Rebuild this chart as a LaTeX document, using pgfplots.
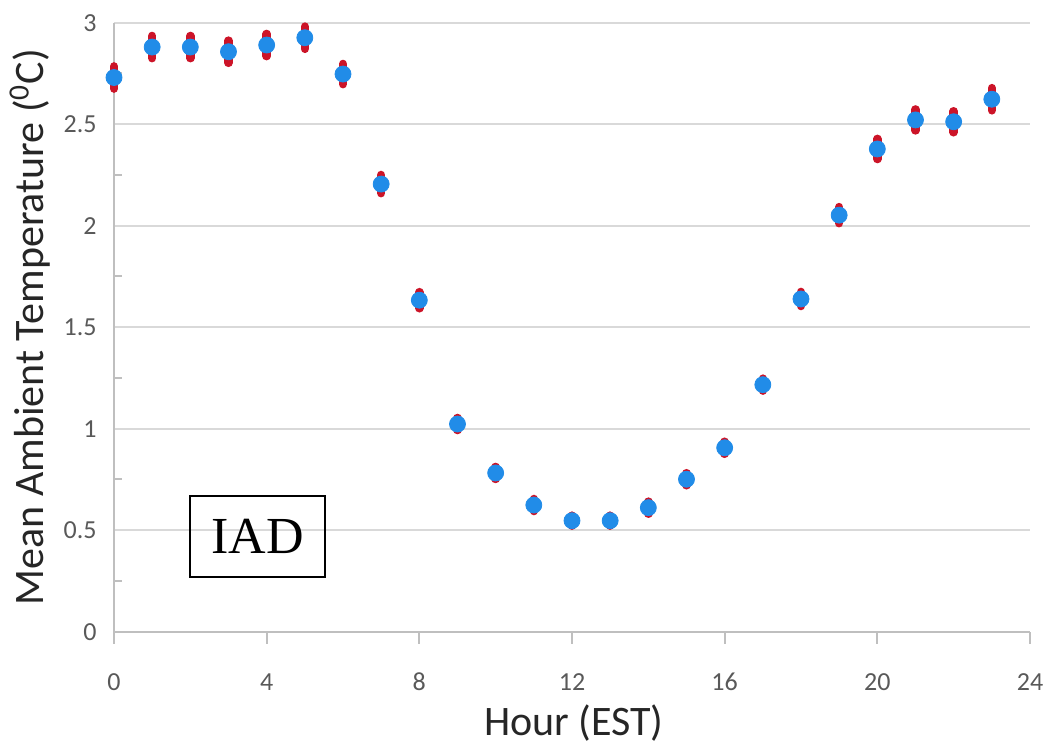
\documentclass[border=0pt]{standalone}
\usepackage{pgfplots}
\pgfplotsset{compat=1.18}
\usepackage{pgfplotstable}
\usepackage{fontspec}
\setmainfont{Carlito}
\newfontfamily\timesf{Liberation Serif}

\definecolor{barred}{RGB}{204,20,40}
\definecolor{dotblue}{RGB}{33,140,232}
\definecolor{gridgray}{RGB}{217,217,217}
\definecolor{axisgray}{RGB}{191,191,191}
\definecolor{ticktext}{RGB}{89,89,89}
\definecolor{labtext}{RGB}{38,38,38}

% hour, mean temperature, error
\pgfplotstableread{
hour temp err
0  2.730 0.055
1  2.880 0.055
2  2.880 0.055
3  2.857 0.055
4  2.890 0.055
5  2.926 0.055
6  2.747 0.050
7  2.205 0.045
8  1.633 0.040
9  1.023 0.030
10 0.782 0.030
11 0.624 0.030
12 0.547 0.025
13 0.547 0.025
14 0.611 0.030
15 0.751 0.030
16 0.906 0.030
17 1.217 0.030
18 1.639 0.035
19 2.052 0.040
20 2.378 0.050
21 2.521 0.052
22 2.512 0.052
23 2.623 0.055
}\iadtable

\begin{document}
\begin{tikzpicture}
\begin{axis}[
    name=ax,
    at={(0,0)}, anchor=south west,
    scale only axis,
    width=458pt, height=304.5pt,
    xmin=0, xmax=24, ymin=0, ymax=3,
    xtick={0,4,...,24},
    ytick={0,0.5,1,1.5,2,2.5,3},
    minor y tick num=1,
    axis lines*=left,
    axis line style={-, draw=axisgray, line width=1pt},
    ymajorgrids,
    major grid style={draw=gridgray, line width=1pt},
    major tick length=6pt,
    minor tick length=4pt,
    xtick style={draw=axisgray, line width=1pt, yshift=-6pt},
    ytick style={draw=none},
    minor y tick style={draw=axisgray, line width=1pt},
    /pgf/number format/assume math mode=true,
    tick label style={font=\fontsize{13}{15}\selectfont, text=ticktext, inner sep=0pt},
    xticklabel style={anchor=center, yshift=-25pt},
    yticklabel style={anchor=east, xshift=-8.5pt},
    xlabel={Hour (EST)},
    ylabel={Mean Ambient Temperature (\textsuperscript{0}C)},
    label style={font=\fontsize{21}{25}\selectfont, text=labtext},
    xlabel style={at={(axis description cs:0.502,-0.15)}, anchor=center},
    ylabel style={at={(axis description cs:-0.0917,0.5)}, anchor=center},
    clip=false,
]
% red error bars
\addplot[draw=none, mark=none,
    error bars/.cd, y dir=both, y explicit, error mark=none,
    error bar style={draw=barred, line width=4.2pt, line cap=round}]
    table[x=hour, y=temp, y error=err] {\iadtable};
% blue means
\addplot[only marks, mark=*, mark size=4pt,
    mark options={fill=dotblue, draw=dotblue}]
    table[x=hour, y=temp] {\iadtable};

\node[draw=black, line width=0.6pt, minimum width=67.5pt, minimum height=40.5pt,
    inner sep=0pt, font=\timesf\fontsize{26}{30}\selectfont]
    at (axis cs:3.76,0.469) {IAD};
\end{axis}
\pgfresetboundingbox
\useasboundingbox (-57pt,-59.15pt) rectangle (468.5pt,315.85pt);
\end{tikzpicture}
\end{document}
